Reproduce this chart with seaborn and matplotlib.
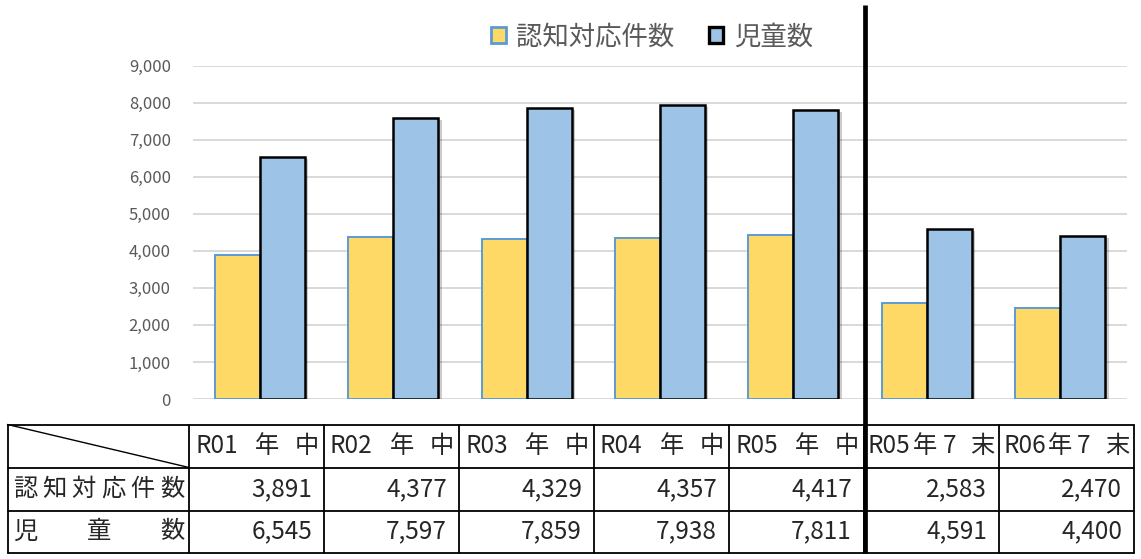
import pandas as pd
import matplotlib.pyplot as plt
import matplotlib.patheffects as pe
import seaborn as sns

# データ
categories = ['R01年中', 'R02年中', 'R03年中', 'R04年中', 'R05年中', 'R05年7末', 'R06年7末']
series_names = ['認知対応件数', '児童数']
counts = [3891, 4377, 4329, 4357, 4417, 2583, 2470]
children = [6545, 7597, 7859, 7938, 7811, 4591, 4400]
yticks = [0, 1000, 2000, 3000, 4000, 5000, 6000, 7000, 8000, 9000]

W, H = 1141, 559
YELLOW = '#FFD966'
BLUE = '#9DC3E6'
GRAY = '#595959'


def main():
    sns.set_theme(style='white')
    plt.rcParams['font.family'] = ['Noto Sans CJK JP', 'DejaVu Sans']
    plt.rcParams['axes.unicode_minus'] = False

    df = pd.DataFrame({
        '区分': categories * 2,
        '系列': [series_names[0]] * len(categories) + [series_names[1]] * len(categories),
        '値': counts + children,
    })

    fig = plt.figure(figsize=(W / 100, H / 100), dpi=100)
    # グラフ領域 (ピクセル指定)
    left, right, top, bottom = 193, 1127, 65.7, 399
    ax = fig.add_axes([left / W, 1 - bottom / H, (right - left) / W, (bottom - top) / H])

    sns.barplot(data=df, x='区分', y='値', hue='系列', palette=[YELLOW, BLUE],
                width=0.674, gap=0, saturation=1, ax=ax, legend=True)

    shadow = [pe.SimplePatchShadow(offset=(2.5, -1.5), shadow_rgbFace='#000000', alpha=0.2), pe.Normal()]
    edge_styles = [('#5B9BD5', 1.4), ('#000000', 1.8)]
    for cont, (ec, lw) in zip(ax.containers, edge_styles):
        for bar in cont:
            bar.set_edgecolor(ec)
            bar.set_linewidth(lw)
            bar.set_path_effects(shadow)

    ax.set_xlim(-0.5, len(categories) - 0.5)
    ax.set_ylim(0, 9000)
    ax.set_yticks(yticks)
    ax.set_yticklabels([f'{v:,}' for v in yticks])
    ax.set_xticks([])
    ax.set_xlabel('')
    ax.set_ylabel('')
    ax.tick_params(axis='y', length=0, pad=16, labelsize=12, labelcolor=GRAY)
    ax.yaxis.grid(True, color='#D9D9D9', linewidth=1.4)
    ax.set_axisbelow(True)
    for s in ax.spines.values():
        s.set_visible(False)

    # 凡例
    handles, labels = ax.get_legend_handles_labels()
    ax.get_legend().remove()
    for h, (ec, lw) in zip(handles, edge_styles):
        h.set_edgecolor(ec)
        h.set_linewidth(lw + 0.6)
    fig.legend(handles, labels, loc='center', bbox_to_anchor=(652 / W, 1 - 37 / H),
               ncol=2, frameon=False, fontsize=19, labelcolor=GRAY,
               handlelength=0.55, handleheight=0.55, handletextpad=0.4, columnspacing=1.3)

    # 表 (ピクセル座標のオーバーレイ)
    tx = fig.add_axes([0, 0, 1, 1])
    tx.set_xlim(0, W)
    tx.set_ylim(H, 0)
    tx.axis('off')
    tx.patch.set_alpha(0)

    t_left, c0, cw = 7.5, 189, 135
    rows = [424.5, 467.5, 510.5, 552.5]
    col_edges = [c0 + i * cw for i in range(len(categories) + 1)]
    t_right = col_edges[-1]
    lw_t = 1.3
    for y in rows:
        tx.plot([t_left, t_right], [y, y], color='black', lw=lw_t)
    for x in [t_left] + col_edges:
        tx.plot([x, x], [rows[0], rows[-1]], color='black', lw=lw_t)
    tx.plot([t_left, c0], [rows[0], rows[1]], color='black', lw=1.0)

    fs = 17.5
    yc = [(rows[i] + rows[i + 1]) / 2 for i in range(3)]
    # 見出し行
    for i, cat in enumerate(categories):
        cl, cr = col_edges[i], col_edges[i + 1]
        head, rest = cat[:3], cat[3:]
        if len(rest) == 2:
            tx.text(cl + 6, yc[0], head, ha='left', va='center', fontsize=fs)
            tx.text(cl + 78, yc[0], rest[0], ha='center', va='center', fontsize=fs)
            tx.text(cr - 5, yc[0], rest[1], ha='right', va='center', fontsize=fs)
        else:
            tx.text(cl + 4, yc[0], head, ha='left', va='center', fontsize=fs)
            tx.text(cl + 61, yc[0], rest[0], ha='center', va='center', fontsize=fs)
            tx.text(cl + 85, yc[0], rest[1], ha='center', va='center', fontsize=fs)
            tx.text(cr - 5, yc[0], rest[2], ha='right', va='center', fontsize=fs)
    # 行見出し (均等割り付け)
    x_a, x_b = 25, 172
    for r, name in enumerate(series_names):
        n = len(name)
        for k, ch in enumerate(name):
            x = x_a + (x_b - x_a) * k / (n - 1)
            tx.text(x, yc[r + 1], ch, ha='center', va='center', fontsize=fs)
    # 数値
    for r, vals in enumerate([counts, children]):
        for i, v in enumerate(vals):
            tx.text(col_edges[i + 1] - 12, yc[r + 1], f'{v:,}', ha='right', va='center', fontsize=fs)

    # 区切り線
    tx.plot([865, 865], [4.5, 552.5], color='black', lw=3.4, solid_capstyle='butt')

    fig.savefig('out.png', dpi=100)


if __name__ == '__main__':
    main()
